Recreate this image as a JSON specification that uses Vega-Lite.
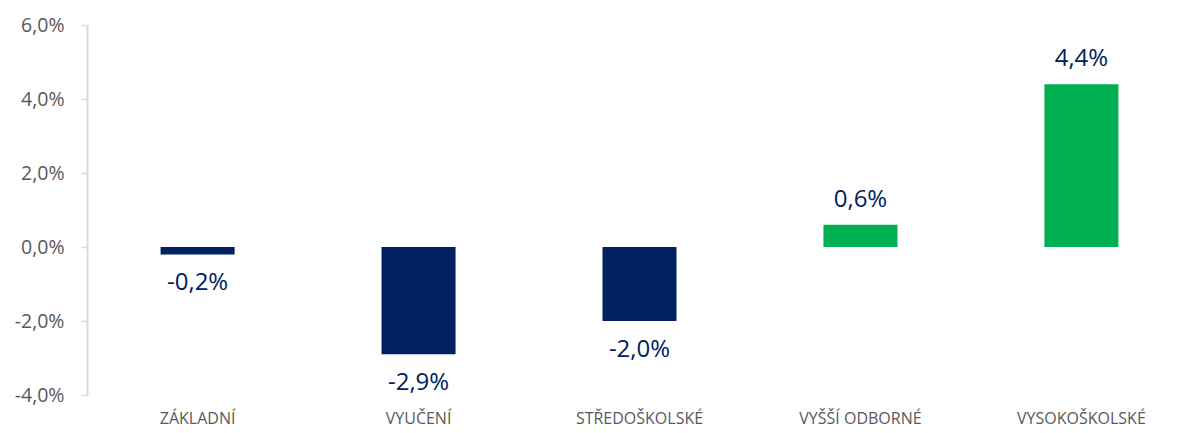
{
  "$schema": "https://vega.github.io/schema/vega-lite/v6.json",
  "width": 1105,
  "height": 370,
  "autosize": {"type": "none"},
  "padding": {"left": 87, "top": 25, "right": 0, "bottom": 38},
  "background": "white",
  "config": {
    "view": {"stroke": null},
    "locale": {"number": {"decimal": ",", "thousands": " ", "grouping": [3], "currency": ["", " Kč"], "minus": "-"}}
  },
  "data": {
    "values": [
      {"vzdelani": "ZÁKLADNÍ", "zmena": -0.002},
      {"vzdelani": "VYUČENÍ", "zmena": -0.029},
      {"vzdelani": "STŘEDOŠKOLSKÉ", "zmena": -0.020},
      {"vzdelani": "VYŠŠÍ ODBORNÉ", "zmena": 0.006},
      {"vzdelani": "VYSOKOŠKOLSKÉ", "zmena": 0.044}
    ]
  },
  "encoding": {
    "x": {
      "field": "vzdelani",
      "type": "nominal",
      "sort": null,
      "scale": {"paddingInner": 0.665, "paddingOuter": 0.333},
      "axis": {
        "title": null,
        "labelAngle": 0,
        "domain": false,
        "ticks": false,
        "labelPadding": 15,
        "labelFont": "Open Sans",
        "labelFontSize": 16,
        "labelColor": "#595959"
      }
    },
    "y": {
      "field": "zmena",
      "type": "quantitative",
      "scale": {"domain": [-0.04, 0.06], "nice": false},
      "axis": {
        "title": null,
        "values": [-0.04, -0.02, 0, 0.02, 0.04, 0.06],
        "format": ".1%",
        "grid": false,
        "domainColor": "#D9D9D9",
        "domainWidth": 2,
        "tickColor": "#D9D9D9",
        "tickSize": 6,
        "tickWidth": 1.5,
        "labelPadding": 17,
        "labelFont": "Open Sans",
        "labelFontSize": 19.5,
        "labelColor": "#595959"
      }
    }
  },
  "layer": [
    {
      "mark": {"type": "bar"},
      "encoding": {
        "color": {
          "condition": {"test": "datum.zmena < 0", "value": "#002060"},
          "value": "#00B050"
        }
      }
    },
    {
      "transform": [{"filter": "datum.zmena >= 0"}],
      "mark": {"type": "text", "baseline": "bottom", "dy": -13, "font": "Open Sans", "fontSize": 24, "color": "#002060"},
      "encoding": {"text": {"field": "zmena", "type": "quantitative", "format": ".1%"}}
    },
    {
      "transform": [{"filter": "datum.zmena < 0"}],
      "mark": {"type": "text", "baseline": "top", "dy": 17, "font": "Open Sans", "fontSize": 24, "color": "#002060"},
      "encoding": {"text": {"field": "zmena", "type": "quantitative", "format": ".1%"}}
    }
  ]
}
